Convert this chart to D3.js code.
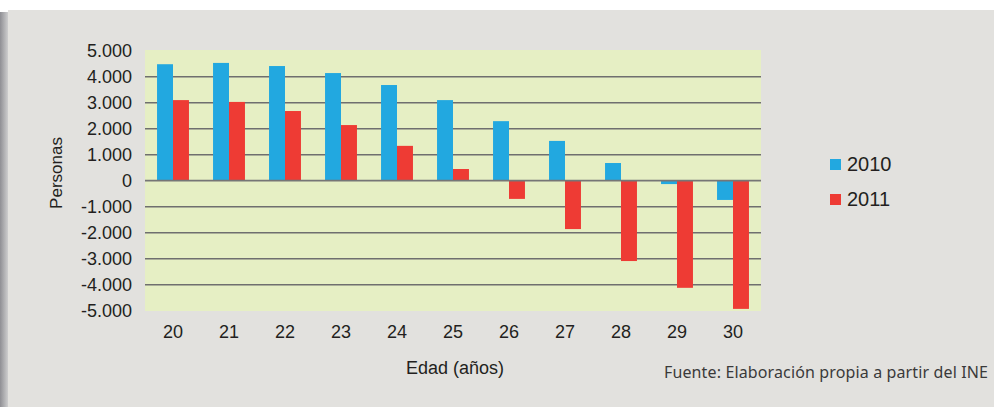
<!DOCTYPE html>
<html>
<head>
<meta charset="utf-8">
<script src="https://cdn.jsdelivr.net/npm/d3@7"></script>
<style>
    body { margin: 0; background: #ffffff; }
    svg { display: block; }
</style>
</head>
<body>
<div id="chart"></div>
<script>
var ages = ["20", "21", "22", "23", "24", "25", "26", "27", "28", "29", "30"];
var v2010 = [4480, 4530, 4410, 4140, 3680, 3100, 2290, 1530, 680, -130, -740];
var v2011 = [3100, 3030, 2680, 2140, 1340, 450, -700, -1860, -3090, -4120, -4930];
var seriesNames = ["2010", "2011"];
var seriesColors = ["#22a8e0", "#ee3b34"];
var yTicks = [-5000, -4000, -3000, -2000, -1000, 0, 1000, 2000, 3000, 4000, 5000];
var gridValues = [-4000, -3000, -2000, -1000, 1000, 2000, 3000, 4000];

var width = 994, height = 407;
var plot = { left: 145, right: 761, top: 50.7, bottom: 310.7 };

var es = d3.formatLocale({ decimal: ",", thousands: ".", grouping: [3], currency: ["", " €"], minus: "-" });
var fmt = es.format(",d");

var data = ages.map(function (a, i) {
    return { age: a, values: [v2010[i], v2011[i]] };
});

var svg = d3.select("#chart").append("svg")
    .attr("width", width)
    .attr("height", height);

// panel + left shadow
var defs = svg.append("defs");
var grad = defs.append("linearGradient").attr("id", "shadow")
    .attr("x1", "0").attr("x2", "1").attr("y1", "0").attr("y2", "0");
grad.append("stop").attr("offset", "0").attr("stop-color", "#8f8f94");
grad.append("stop").attr("offset", "1").attr("stop-color", "#d5d5d5");

svg.append("rect").attr("x", 0).attr("y", 0).attr("width", width).attr("height", height).attr("fill", "#ffffff");
svg.append("rect").attr("x", 0).attr("y", 12).attr("width", 9).attr("height", height - 12).attr("fill", "url(#shadow)");
svg.append("rect").attr("x", 8).attr("y", 10).attr("width", width - 8).attr("height", height - 10).attr("fill", "#e2e1de");

var x = d3.scaleBand().domain(ages).range([plot.left, plot.right])
    .paddingInner(0.43).paddingOuter(0.215);
var x1 = d3.scaleBand().domain([0, 1]).range([0, x.bandwidth()]);
var y = d3.scaleLinear().domain([-5000, 5000]).range([plot.bottom, plot.top]);

svg.append("rect")
    .attr("x", plot.left)
    .attr("y", plot.top - 0.7)
    .attr("width", plot.right - plot.left)
    .attr("height", plot.bottom - plot.top + 1)
    .attr("fill", "#e6efc4");

svg.append("g").selectAll("line")
    .data(gridValues)
    .enter().append("line")
    .attr("x1", plot.left).attr("x2", plot.right)
    .attr("y1", function (d) { return y(d); })
    .attr("y2", function (d) { return y(d); })
    .attr("stroke", "#6f6f6f")
    .attr("stroke-width", 1.5);

var groups = svg.append("g").selectAll("g")
    .data(data)
    .enter().append("g")
    .attr("transform", function (d) { return "translate(" + x(d.age) + ",0)"; });

groups.selectAll("rect")
    .data(function (d) { return d.values; })
    .enter().append("rect")
    .attr("x", function (d, i) { return x1(i); })
    .attr("width", x1.bandwidth())
    .attr("y", function (d) { return y(Math.max(0, d)); })
    .attr("height", function (d) { return Math.abs(y(d) - y(0)); })
    .attr("fill", function (d, i) { return seriesColors[i]; });

svg.append("line")
    .attr("x1", plot.left).attr("x2", plot.right)
    .attr("y1", y(0)).attr("y2", y(0))
    .attr("stroke", "#767676")
    .attr("stroke-width", 1.8);

// y axis labels
var yAxis = svg.append("g")
    .attr("transform", "translate(" + plot.left + ",0)")
    .call(d3.axisLeft(y).tickValues(yTicks).tickFormat(fmt).tickSize(0).tickPadding(13));
yAxis.select(".domain").remove();
yAxis.selectAll("text")
    .attr("font-family", "Liberation Sans, Arial, sans-serif")
    .attr("font-size", "18px")
    .attr("fill", "#231f20");

// x axis labels
var xAxis = svg.append("g")
    .attr("transform", "translate(0," + plot.bottom + ")")
    .call(d3.axisBottom(x).tickSize(0).tickPadding(15));
xAxis.select(".domain").remove();
xAxis.selectAll("text")
    .attr("font-family", "Liberation Sans, Arial, sans-serif")
    .attr("font-size", "18px")
    .attr("fill", "#231f20");

svg.append("text")
    .attr("x", 455)
    .attr("y", 374)
    .attr("text-anchor", "middle")
    .attr("font-family", "Liberation Sans, Arial, sans-serif")
    .attr("font-size", "18px")
    .attr("fill", "#231f20")
    .text("Edad (años)");

svg.append("text")
    .attr("transform", "translate(62,173) rotate(-90)")
    .attr("text-anchor", "middle")
    .attr("font-family", "Liberation Sans, Arial, sans-serif")
    .attr("font-size", "17px")
    .attr("fill", "#231f20")
    .text("Personas");

// legend
var legend = svg.append("g").selectAll("g")
    .data(seriesNames)
    .enter().append("g")
    .attr("transform", function (d, i) { return "translate(830," + (159 + i * 35) + ")"; });
legend.append("rect")
    .attr("width", 11).attr("height", 11)
    .attr("fill", function (d, i) { return seriesColors[i]; });
legend.append("text")
    .attr("x", 17)
    .attr("y", 12)
    .attr("font-family", "Liberation Sans, Arial, sans-serif")
    .attr("font-size", "20px")
    .attr("fill", "#231f20")
    .text(function (d) { return d; });

svg.append("text")
    .attr("x", 988)
    .attr("y", 378)
    .attr("text-anchor", "end")
    .attr("font-family", "Noto Sans, sans-serif")
    .attr("font-size", "16px")
    .attr("fill", "#3a3a3a")
    .attr("textLength", 324)
    .attr("lengthAdjust", "spacing")
    .text("Fuente: Elaboración propia a partir del INE");
</script>
</body>
</html>
